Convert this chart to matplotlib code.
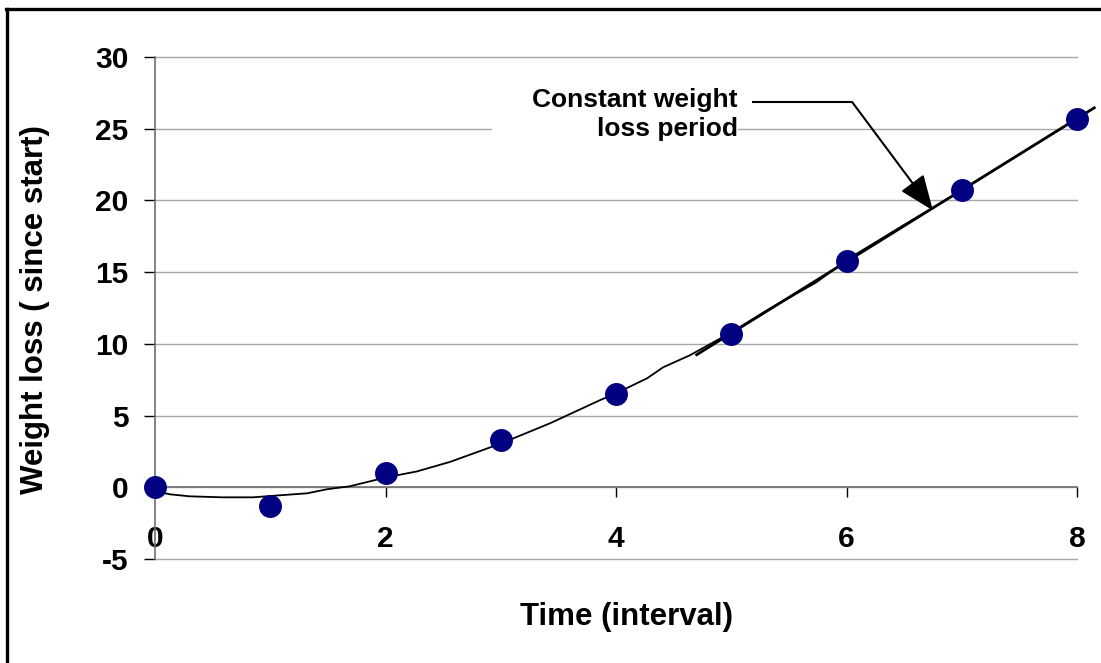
import numpy as np
import matplotlib
matplotlib.use("Agg")
import matplotlib.pyplot as plt
from matplotlib.lines import Line2D
from matplotlib.patches import Rectangle

# ---- data ----
time_interval = [0, 1, 2, 3, 4, 5, 6, 7, 8]
weight_loss = [0.0, -1.3, 1.0, 3.3, 6.5, 10.7, 15.8, 20.7, 25.7]

# hand-drawn trend curve
curve_x = [0.0, 0.13, 0.30, 0.59, 0.85, 1.08, 1.32, 1.49, 1.69, 2.01, 2.27,
           2.56, 3.0, 3.43, 3.86, 4.0, 4.27, 4.41, 4.64, 5.0, 5.31, 5.74,
           6.01, 6.5, 7.0, 7.5, 8.0]
curve_y = [-0.26, -0.49, -0.63, -0.70, -0.70, -0.56, -0.42, -0.14, 0.07, 0.70,
           1.10, 1.77, 3.05, 4.47, 6.07, 6.55, 7.60, 8.37, 9.20, 10.80, 12.34,
           14.30, 15.90, 18.30, 20.70, 23.20, 25.70]

linear_period = [5, 6, 7, 8]          # points used for constant-rate line
x_ticks = [0, 2, 4, 6, 8]
y_ticks = [-5, 0, 5, 10, 15, 20, 25, 30]
annotation_text = "Constant weight\nloss period"

FONT = "Liberation Sans"
plt.rcParams["font.family"] = [FONT, "DejaVu Sans"]
plt.rcParams["axes.unicode_minus"] = False

fig = plt.figure(figsize=(11.01, 6.63), dpi=100)
W, H = 1101, 663
ax = fig.add_axes([155 / W, (H - 559) / H, (1077 - 155) / W, (559 - 57) / H])

ax.set_xlim(0, 8)
ax.set_ylim(-5, 30)
ax.set_xticks(x_ticks)
ax.set_yticks(y_ticks)

# grid
ax.yaxis.grid(True, color="#a6a6a6", linewidth=1.0, zorder=0)
ax.xaxis.grid(False)
ax.set_axisbelow(True)
for gl in ax.get_ygridlines():
    gl.set_clip_on(False)

for s in ["top", "right"]:
    ax.spines[s].set_visible(False)
ax.spines["bottom"].set_position(("data", 0))
ax.spines["bottom"].set_color("#707070")
ax.spines["left"].set_color("#707070")
ax.spines["bottom"].set_linewidth(1.2)
ax.spines["left"].set_linewidth(1.2)

ax.tick_params(axis="x", direction="out", length=7, width=1, color="black",
               pad=20, labelsize=21.5)
ax.tick_params(axis="y", direction="out", length=8, width=1, color="black",
               pad=11, labelsize=21.5)
for lab in ax.get_xticklabels() + ax.get_yticklabels():
    lab.set_fontweight("bold")

# trend curve
ax.plot(curve_x, curve_y, color="black", linewidth=1.3, zorder=3)

# constant-rate line (linear fit over later period)
xd = np.array(time_interval, dtype=float)
yd = np.array(weight_loss, dtype=float)
idx = [time_interval.index(v) for v in linear_period]
lc = np.polyfit(xd[idx], yd[idx], 1)
xl = np.array([4.7, 8.15])
ax.plot(xl, np.polyval(lc, xl), color="black", linewidth=2.0, zorder=3,
        clip_on=False)

# data points
ax.plot(time_interval, weight_loss, linestyle="none", marker="o",
        markersize=15.5, color="#000080", zorder=4, clip_on=False)

# white box behind annotation text (hides gridline)
ax.add_patch(Rectangle((0.3655, 0.825), 0.632 - 0.3655, 0.954 - 0.825,
                       transform=ax.transAxes, facecolor="white",
                       edgecolor="none", zorder=1))
ax.text(0.632, 0.886, annotation_text, transform=ax.transAxes, ha="right",
        va="center", fontsize=19, fontweight="bold", linespacing=1.25,
        zorder=5)

# annotation arrow: horizontal leg, then diagonal arrow
ax.plot([5.18, 6.05], [26.85, 26.85], color="black", linewidth=1.5, zorder=5,
        solid_capstyle="butt")
ax.annotate("", xy=(6.75, 19.3), xytext=(6.05, 26.85),
            arrowprops=dict(arrowstyle="-|>,head_length=1.0,head_width=0.4",
                            color="black", linewidth=1.5, mutation_scale=22,
                            shrinkA=0, shrinkB=0),
            zorder=5)

# axis labels
fig.text(627 / W, 1 - 617 / H, "Time (interval)", ha="center", va="center",
         fontsize=22.5, fontweight="bold")
fig.text(35 / W, 1 - 310 / H, "Weight loss ( since start)", ha="center",
         va="center", rotation=90, fontsize=22.5, fontweight="bold")

# outer border (left and top edges visible)
fig.add_artist(Line2D([7 / W, 7 / W], [0, 1 - 9 / H], transform=fig.transFigure,
                      color="black", linewidth=2.4))
fig.add_artist(Line2D([6 / W, 1], [1 - 9 / H, 1 - 9 / H],
                      transform=fig.transFigure, color="black", linewidth=2.4))

fig.savefig("out.png", dpi=100)
